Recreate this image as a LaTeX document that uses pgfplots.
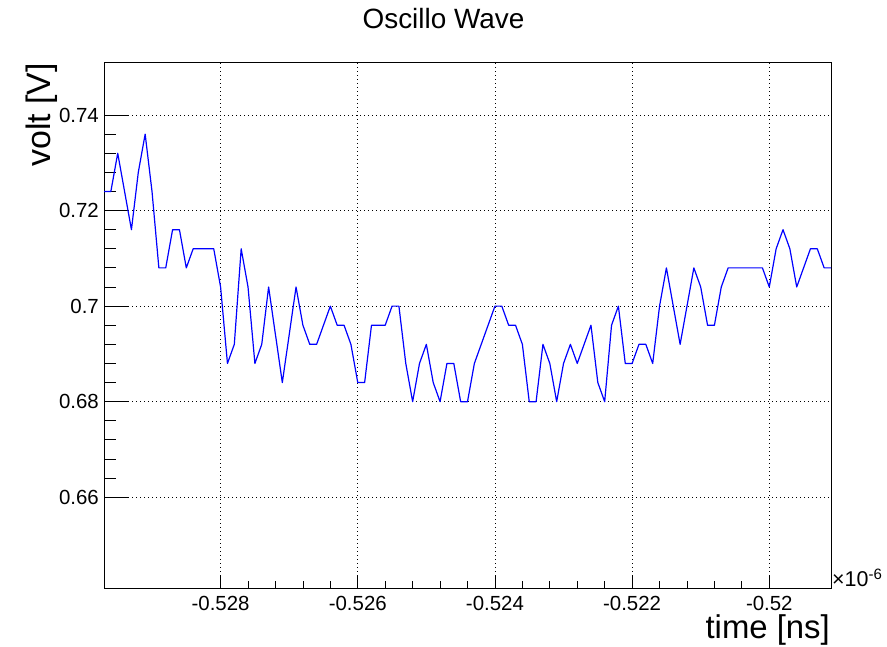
\documentclass[border=0pt]{standalone}
\usepackage{pgfplots}
\pgfplotsset{compat=1.18}
\usepackage{fontspec}
\setmainfont{Liberation Sans}
\pgfplotstableread{
t v
-0.5297 0.724
-0.5296 0.724
-0.5295 0.732
-0.5294 0.724
-0.5293 0.716
-0.5292 0.728
-0.5291 0.736
-0.5290 0.724
-0.5289 0.708
-0.5288 0.708
-0.5287 0.716
-0.5286 0.716
-0.5285 0.708
-0.5284 0.712
-0.5283 0.712
-0.5282 0.712
-0.5281 0.712
-0.5280 0.704
-0.5279 0.688
-0.5278 0.692
-0.5277 0.712
-0.5276 0.704
-0.5275 0.688
-0.5274 0.692
-0.5273 0.704
-0.5272 0.694
-0.5271 0.684
-0.5270 0.694
-0.5269 0.704
-0.5268 0.696
-0.5267 0.692
-0.5266 0.692
-0.5265 0.696
-0.5264 0.700
-0.5263 0.696
-0.5262 0.696
-0.5261 0.692
-0.5260 0.684
-0.5259 0.684
-0.5258 0.696
-0.5257 0.696
-0.5256 0.696
-0.5255 0.700
-0.5254 0.700
-0.5253 0.688
-0.5252 0.680
-0.5251 0.688
-0.5250 0.692
-0.5249 0.684
-0.5248 0.680
-0.5247 0.688
-0.5246 0.688
-0.5245 0.680
-0.5244 0.680
-0.5243 0.688
-0.5242 0.692
-0.5241 0.696
-0.5240 0.700
-0.5239 0.700
-0.5238 0.696
-0.5237 0.696
-0.5236 0.692
-0.5235 0.680
-0.5234 0.680
-0.5233 0.692
-0.5232 0.688
-0.5231 0.680
-0.5230 0.688
-0.5229 0.692
-0.5228 0.688
-0.5227 0.692
-0.5226 0.696
-0.5225 0.684
-0.5224 0.680
-0.5223 0.696
-0.5222 0.700
-0.5221 0.688
-0.5220 0.688
-0.5219 0.692
-0.5218 0.692
-0.5217 0.688
-0.5216 0.700
-0.5215 0.708
-0.5214 0.700
-0.5213 0.692
-0.5212 0.700
-0.5211 0.708
-0.5210 0.704
-0.5209 0.696
-0.5208 0.696
-0.5207 0.704
-0.5206 0.708
-0.5205 0.708
-0.5204 0.708
-0.5203 0.708
-0.5202 0.708
-0.5201 0.708
-0.5200 0.704
-0.5199 0.712
-0.5198 0.716
-0.5197 0.712
-0.5196 0.704
-0.5195 0.708
-0.5194 0.712
-0.5193 0.712
-0.5192 0.708
-0.5191 0.708
}\wave
\begin{document}
\begin{tikzpicture}[x=1bp,y=1bp]
\path[use as bounding box] (0,0) rectangle (887,647);
\pgfplotsset{
  common/.style={
    at={(104bp,59bp)}, anchor=south west,
    scale only axis, width=727bp, height=526bp,
    xmin=-0.5297, xmax=-0.5191, ymin=0.641, ymax=0.7511,
    tick align=inside, xtick pos=bottom, ytick pos=left,
    axis line style={black, line width=0.9bp},
    every tick/.style={black, line width=0.8bp},
    major grid style={black, line width=0.7bp, dash pattern=on 1.2bp off 2.8bp},
    tick label style={font=\fontsize{20.5}{24}\selectfont},
    /pgf/number format/assume math mode=true,
    scaled x ticks=false, scaled y ticks=false,
  }
}
% x ticks, x grid, x labels
\begin{axis}[common,
  xtick={-0.528,-0.526,-0.524,-0.522,-0.520},
  minor x tick num=4,
  ytick=\empty,
  xmajorgrids,
  major tick length=13bp, minor tick length=6.5bp,
  xticklabel style={/pgf/number format/fixed, /pgf/number format/precision=3, inner sep=0pt, yshift=-8bp},
]
\end{axis}
% y ticks, y grid, curve
\begin{axis}[common,
  xtick=\empty,
  ytick={0.66,0.68,0.70,0.72,0.74},
  minor y tick num=4,
  ymajorgrids,
  major tick length=24bp, minor tick length=12bp,
  yticklabel style={/pgf/number format/fixed, /pgf/number format/precision=2, inner sep=0pt, xshift=-5bp},
]
\addplot[blue, line width=1.2bp, line join=round] table[x=t, y=v] {\wave};
\end{axis}
\node[anchor=base] at (443.5,618) {\fontsize{28}{30}\selectfont Oscillo Wave};
\node[anchor=base east, rotate=90, inner sep=0pt] at (50,584) {\fontsize{34}{36}\selectfont volt [V]};
\node[anchor=base east, inner sep=0pt] at (830,8) {\fontsize{33}{36}\selectfont time [ns]};
\node[anchor=base west, inner sep=0pt] at (832,60) {\fontsize{21.5}{24}\selectfont ×10\textsuperscript{-6}};
\end{tikzpicture}
\end{document}
